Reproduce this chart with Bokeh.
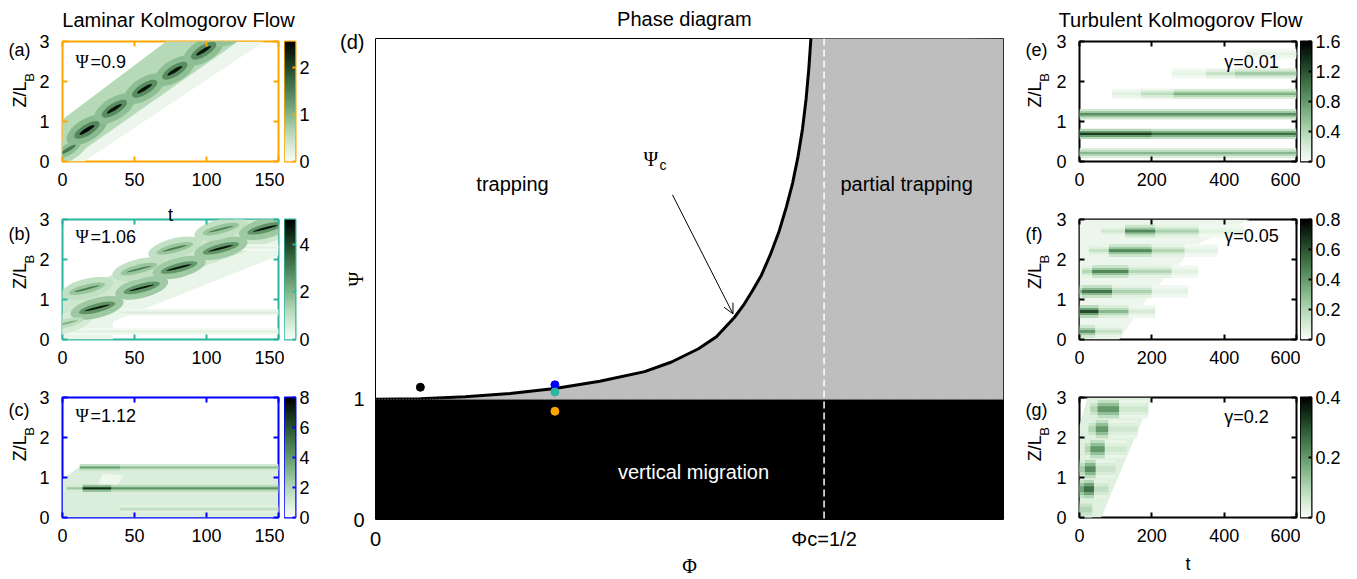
import numpy as np
from bokeh.plotting import figure
from bokeh.models import (ColumnDataSource, Label, Arrow, OpenHead, Span,
                          FixedTicker, LinearAxis, Range1d, LinearColorMapper)
from bokeh.layouts import row, column
from bokeh.transform import linear_cmap
from bokeh.embed import file_html
from bokeh.resources import INLINE

SANS = "Liberation Sans"
SERIF = "Liberation Serif"

# ======================= DATA =======================
# ---- (d) phase diagram ----
PHI_RANGE = [0.0, 0.7]
PSI_RANGE = [0.0, 4.0]
PHI_C = [0.0, 0.05, 0.10, 0.15, 0.20, 0.25, 0.30, 0.33, 0.36, 0.38, 0.40, 0.41, 0.42,
         0.43, 0.44, 0.45, 0.458, 0.465, 0.471, 0.476, 0.480, 0.483, 0.4855]
PSI_C = [1.00, 1.005, 1.02, 1.048, 1.09, 1.15, 1.23, 1.31, 1.42, 1.52, 1.68, 1.78, 1.90,
         2.03, 2.20, 2.40, 2.60, 2.80, 3.02, 3.25, 3.50, 3.75, 4.02]
PSI_MIGRATION = [0.0, 1.0]
PHI_CRIT = 0.5
DOT_PHI = [0.05, 0.20, 0.20, 0.20]
DOT_PSI = [1.10, 1.12, 1.06, 0.90]
DOT_COLORS = ["#000000", "#0000ff", "#2cb5a0", "#ffa500"]
ARROW_FROM = [0.331, 2.70]
ARROW_TO = [0.3985, 1.71]

# ---- heat-map panels: (a) (b) (c) laminar, (e) (f) (g) turbulent ----
T_LAMINAR = [0, 50, 100, 150]
T_TURB = [0, 200, 400, 600]
Z_TICKS = [0, 1, 2, 3]

A_CBAR = [0, 1, 2]; A_VMAX = 2.55
A_REG_T = [[0, 0, 72, 140, 15], [0, 0, 72, 122, 3]]
A_REG_Z = [[0, 1.05, 3, 3, 0], [0.05, 1.05, 3, 3, 0]]
A_REG_V = [0.12, 0.6]
A_BLOB_T = [4, 17, 36, 57, 78, 98, 118]
A_BLOB_Z = [0.30, 0.79, 1.32, 1.82, 2.27, 2.77, 3.25]
A_BLOB_V = [1.6, 2.5, 2.4, 2.4, 2.4, 2.4, 2.3]

B_CBAR = [0, 2, 4]; B_VMAX = 5.05
B_REG_T = [[0, 0, 150, 150, 35, 35], [0, 0, 119, 150, 150]]
B_REG_Z = [[0, 0.55, 2.5, 2.1, 0.45, 0], [0.55, 1.05, 3, 3, 2.5]]
B_REG_V = [0.3, 0.75]
B_ST_Z = [0.68, 0.20, 2.30]
B_ST_T0 = [40, 0, 120]
B_ST_T1 = [150, 150, 150]
B_ST_V = [0.6, 0.5, 0.45]
B_BLOB_T = [2, 24, 17, 55, 53, 81, 78, 110, 110, 141]
B_BLOB_Z = [0.40, 0.79, 1.27, 1.29, 1.76, 1.80, 2.28, 2.28, 2.76, 2.78]
B_BLOB_V = [2.0, 4.8, 3.0, 4.7, 3.0, 4.7, 3.0, 4.7, 3.0, 4.8]

C_CBAR = [0, 2, 4, 6, 8]; C_VMAX = 8.0
C_REG_T = [[0, 0, 12, 150, 150], [25, 28, 42, 38]]
C_REG_Z = [[0, 0.96, 1.27, 1.27, 0], [0.82, 1.10, 1.05, 0.80]]
C_REG_V = [0.9, 0.3]
C_ST_Z = [1.25, 1.25, 0.73, 0.73, 0.73, 0.21]
C_ST_T0 = [12, 40, 3, 14, 34, 40]
C_ST_T1 = [40, 150, 14, 34, 150, 150]
C_ST_V = [3.8, 2.8, 2.5, 6.8, 4.2, 1.8]

E_CBAR = [0, 0.4, 0.8, 1.2, 1.6]; E_VMAX = 1.6
E_ST_Z = [0.21, 0.69, 0.69, 1.18, 1.69, 1.69, 1.69, 2.20, 2.20, 2.20, 2.69]
E_ST_T0 = [0, 0, 200, 0, 90, 170, 260, 255, 350, 430, 460]
E_ST_T1 = [600, 200, 600, 600, 170, 260, 600, 350, 430, 600, 600]
E_ST_V = [0.6, 1.3, 1.05, 0.85, 0.15, 0.35, 0.65, 0.12, 0.3, 0.5, 0.12]

F_CBAR = [0, 0.2, 0.4, 0.6, 0.8]; F_VMAX = 0.8
F_REG_T = [[0, 0, 470, 330, 200, 110]]
F_REG_Z = [[0, 3, 3, 2.4, 1.2, 0]]
F_REG_V = [0.04]
F_ST_Z = [2.71, 2.71, 2.71, 2.71, 2.22, 2.22, 2.22, 2.22, 1.70, 1.70, 1.70, 1.70,
          1.20, 1.20, 1.20, 1.20, 0.70, 0.70, 0.70, 0.20, 0.20]
F_ST_T0 = [60, 126, 210, 330, 26, 81, 200, 291, 7, 35, 136, 255,
           0, 7, 90, 200, 0, 53, 136, 0, 44]
F_ST_T1 = [126, 210, 330, 456, 81, 200, 291, 383, 35, 136, 255, 328,
           7, 90, 200, 300, 53, 136, 209, 44, 117]
F_ST_V = [0.12, 0.45, 0.22, 0.07, 0.15, 0.45, 0.2, 0.07, 0.2, 0.45, 0.2, 0.07,
          0.3, 0.5, 0.22, 0.07, 0.62, 0.3, 0.1, 0.4, 0.15]

G_CBAR = [0, 0.2, 0.4]; G_VMAX = 0.4
G_REG_T = [[0, 0, 22, 200, 60]]
G_REG_Z = [[0, 2.3, 3, 3, 0]]
G_REG_V = [0.04]
G_ST_Z = [0.20, 0.71, 0.71, 0.71, 1.21, 1.21, 1.21, 1.71, 1.71, 1.71,
          2.21, 2.21, 2.21, 2.71, 2.71, 2.71]
G_ST_T0 = [0, 0, 12, 40, 0, 15, 45, 15, 30, 70, 25, 45, 80, 30, 50, 110]
G_ST_T1 = [35, 12, 40, 80, 15, 45, 100, 30, 70, 130, 45, 80, 160, 50, 110, 190]
G_ST_V = [0.1, 0.18, 0.26, 0.08, 0.12, 0.22, 0.07, 0.1, 0.2, 0.06,
          0.1, 0.2, 0.06, 0.1, 0.2, 0.06]

# ======================= STYLE =======================
def make_palette():
    anchors = [(0.00, (248, 252, 248)), (0.10, (222, 240, 222)), (0.25, (178, 215, 180)),
               (0.40, (128, 180, 135)), (0.55, (88, 140, 96)), (0.70, (52, 98, 60)),
               (0.85, (22, 50, 28)), (1.00, (0, 0, 0))]
    pos = np.array([a[0] for a in anchors])
    cols = np.array([a[1] for a in anchors], dtype=float)
    out = []
    for x in np.linspace(0, 1, 256):
        r, g, b = (np.interp(x, pos, cols[:, k]) for k in range(3))
        out.append("#%02x%02x%02x" % (int(round(r)), int(round(g)), int(round(b))))
    return out


PAL = make_palette()


def lab(p, x, y, text, size=18, font=SANS, xo=0, yo=0, align="left",
        baseline="middle", angle=0.0, color="black"):
    p.add_layout(Label(x=x, y=y, text=text, x_offset=xo, y_offset=yo,
                       text_font=font, text_font_size=f"{size}px",
                       text_align=align, text_baseline=baseline, angle=angle,
                       text_color=color))


def bare_fig(w, h, xr, yr):
    f = figure(width=w, height=h, x_range=xr, y_range=yr, x_axis_location=None,
               y_axis_location=None, output_backend="svg", toolbar_location=None,
               min_border_left=0, min_border_right=0, min_border_top=0,
               min_border_bottom=0)
    f.grid.visible = False
    f.outline_line_color = None
    f.background_fill_color = "white"
    f.border_fill_color = "white"
    return f


def style_axis(ax, ticks, col, labels=True, size=18, standoff=12, tick_len=5):
    ax.ticker = FixedTicker(ticks=ticks)
    ax.major_tick_in = tick_len
    ax.major_tick_out = 0
    ax.minor_tick_in = 0
    ax.minor_tick_out = 0
    ax.major_tick_line_color = col
    ax.major_tick_line_width = 2
    ax.axis_line_color = None
    if labels:
        ax.major_label_text_font = SANS
        ax.major_label_text_font_size = f"{size}px"
        ax.major_label_text_color = "black"
        ax.major_label_standoff = standoff
    else:
        ax.major_label_text_font_size = "1px"
        ax.major_label_text_alpha = 0
        ax.major_label_standoff = 0


def axis_title(ax, text, size, standoff, font=SANS):
    ax.axis_label = text
    ax.axis_label_text_font = font
    ax.axis_label_text_font_size = f"{size}px"
    ax.axis_label_text_font_style = "normal"
    ax.axis_label_text_color = "black"
    ax.axis_label_standoff = standoff


def heat_panel(spec):
    tmax, col, vmax = spec["tmax"], spec["color"], spec["vmax"]
    H, bt, bb = spec["h"], spec["bt"], spec["bb"]
    lw, bl, fw, br, cbr = spec["lw"], spec["bl"], spec["fw"], spec["br"], spec["cbr"]

    # label column (panel letter and Z/L_B)
    lf = bare_fig(lw, H, Range1d(0, lw), Range1d(-bb / 40, 3 + bt / 40))
    lab(lf, 0, 3, spec["letter"], xo=spec["let_x"], yo=-2)
    lab(lf, 0, 1.5, "Z/L", angle=np.pi / 2, align="center", xo=spec["zl_x"], yo=-4)
    lab(lf, 0, 1.5, "B", size=13, angle=np.pi / 2, align="center",
        xo=spec["zl_x"] + 10, yo=13)

    p = figure(width=bl + fw + br, height=H, x_range=Range1d(0, tmax),
               y_range=Range1d(0, 3), output_backend="svg", toolbar_location=None,
               min_border_left=bl, min_border_right=br, min_border_top=bt,
               min_border_bottom=bb)
    p.grid.visible = False
    p.outline_line_color = col
    p.outline_line_width = 2
    p.background_fill_color = "white"
    p.border_fill_color = "white"
    bottom = p.xaxis[0]
    style_axis(bottom, spec["xticks"], col, standoff=11)
    style_axis(p.yaxis[0], Z_TICKS, col, standoff=13)
    top = LinearAxis()
    style_axis(top, spec["xticks"], col, labels=False)
    p.add_layout(top, "above")
    right = LinearAxis()
    style_axis(right, Z_TICKS, col, labels=False)
    p.add_layout(right, "right")
    if spec.get("top_title"):
        axis_title(top, spec["top_title"], 18, -5)
    if spec.get("bottom_title"):
        axis_title(bottom, spec["bottom_title"], 18, 9)

    cmap = linear_cmap("v", PAL, 0, vmax)
    if spec.get("reg_t"):
        src = ColumnDataSource(dict(xs=spec["reg_t"], ys=spec["reg_z"], v=spec["reg_v"]))
        p.patches("xs", "ys", source=src, fill_color=cmap, line_color=None)
    if spec.get("st_z"):
        z = np.array(spec["st_z"], float)
        vv = np.array(spec["st_v"], float)
        for h, frac in spec["st_layers"]:
            src = ColumnDataSource(dict(l=spec["st_t0"], r=spec["st_t1"],
                                        b=z - h / 2, t=z + h / 2, v=vv * frac))
            p.quad(left="l", right="r", bottom="b", top="t", source=src,
                   fill_color=cmap, line_color=None)
    if spec.get("blob_t"):
        vv = np.array(spec["blob_v"], float)
        for w, h, frac in spec["blob_layers"]:
            src = ColumnDataSource(dict(x=spec["blob_t"], y=spec["blob_z"], v=vv * frac))
            p.ellipse(x="x", y="y", width=w, height=h, angle=spec["blob_angle"],
                      source=src, fill_color=cmap, line_color=None)

    lab(p, spec["ann_t"], spec["ann_z"], spec["ann_sym"],
        font=SERIF if spec["ann_sym"] == "Ψ" else SANS)
    lab(p, spec["ann_t"], spec["ann_z"], spec["ann_txt"], xo=spec["ann_dx"])

    # colour bar
    cb = figure(width=11 + cbr, height=H, x_range=Range1d(0, 1), y_range=Range1d(0, vmax),
                x_axis_location=None, y_axis_location="right", output_backend="svg",
                toolbar_location=None, min_border_left=0, min_border_right=cbr,
                min_border_top=bt, min_border_bottom=bb)
    cb.grid.visible = False
    cb.outline_line_color = col
    cb.outline_line_width = 2
    cb.border_fill_color = "white"
    mapper = LinearColorMapper(palette=PAL, low=0, high=vmax)
    ramp = np.linspace(0, vmax, 256).reshape(-1, 1)
    cb.image(image=[ramp], x=0, y=0, dw=1, dh=vmax, color_mapper=mapper)
    ax = cb.yaxis[0]
    style_axis(ax, spec["cbar"], col, standoff=4, tick_len=3)
    ax.major_label_overrides = {t: ("%g" % t) for t in spec["cbar"]}
    return row(lf, p, cb)


# page layout (the page has no margin): strip 0-32, rows of 169 / 178 / 200 px
ROWS = [dict(h=169, bt=9, bb=40), dict(h=178, bt=18, bb=40), dict(h=200, bt=18, bb=62)]
LEFT_GEO = dict(lw=36, bl=24, fw=218, br=6, cbr=40, tmax=150, xticks=T_LAMINAR, ann_t=9,
                let_x=8, zl_x=19, ann_dx=15)
RIGHT_GEO = dict(lw=49, bl=24, fw=219, br=4, cbr=38, tmax=600, xticks=T_TURB, ann_t=400,
                 let_x=21, zl_x=30, ann_dx=0)
LAYERS_BLOB_A = [(32, 0.55, 0.38), (20, 0.28, 0.58), (12, 0.09, 1.0)]
LAYERS_BLOB_B = [(38, 0.5, 0.33), (26, 0.22, 0.55), (18, 0.05, 1.0)]

specs_left = [
    dict(color="#ffa500", vmax=A_VMAX, cbar=A_CBAR, reg_t=A_REG_T, reg_z=A_REG_Z,
         reg_v=A_REG_V, blob_t=A_BLOB_T, blob_z=A_BLOB_Z, blob_v=A_BLOB_V,
         blob_layers=LAYERS_BLOB_A, blob_angle=0.55, ann_z=2.48, ann_sym="Ψ",
         ann_txt="=0.9", letter="(a)"),
    dict(color="#2cb5a0", vmax=B_VMAX, cbar=B_CBAR, reg_t=B_REG_T, reg_z=B_REG_Z,
         reg_v=B_REG_V, st_z=B_ST_Z, st_t0=B_ST_T0, st_t1=B_ST_T1, st_v=B_ST_V,
         st_layers=[(0.16, 0.35), (0.08, 0.6), (0.03, 1.0)],
         blob_t=B_BLOB_T, blob_z=B_BLOB_Z, blob_v=B_BLOB_V,
         blob_layers=LAYERS_BLOB_B, blob_angle=0.25, ann_z=2.56, ann_sym="Ψ",
         ann_txt="=1.06", letter="(b)", top_title="t"),
    dict(color="#0000ff", vmax=C_VMAX, cbar=C_CBAR, reg_t=C_REG_T, reg_z=C_REG_Z,
         reg_v=C_REG_V, st_z=C_ST_Z, st_t0=C_ST_T0, st_t1=C_ST_T1, st_v=C_ST_V,
         st_layers=[(0.18, 0.4), (0.08, 0.7), (0.035, 1.0)], ann_z=2.55,
         ann_sym="Ψ", ann_txt="=1.12", letter="(c)"),
]
specs_right = [
    dict(color="black", vmax=E_VMAX, cbar=E_CBAR, st_z=E_ST_Z, st_t0=E_ST_T0,
         st_t1=E_ST_T1, st_v=E_ST_V, st_layers=[(0.26, 0.3), (0.15, 0.6), (0.06, 1.0)],
         ann_z=2.48, ann_sym="", ann_txt="γ=0.01", letter="(e)"),
    dict(color="black", vmax=F_VMAX, cbar=F_CBAR, reg_t=F_REG_T, reg_z=F_REG_Z,
         reg_v=F_REG_V, st_z=F_ST_Z, st_t0=F_ST_T0, st_t1=F_ST_T1, st_v=F_ST_V,
         st_layers=[(0.32, 0.3), (0.17, 0.6), (0.07, 1.0)],
         ann_z=2.6, ann_sym="", ann_txt="γ=0.05", letter="(f)"),
    dict(color="black", vmax=G_VMAX, cbar=G_CBAR, reg_t=G_REG_T, reg_z=G_REG_Z,
         reg_v=G_REG_V, st_z=G_ST_Z, st_t0=G_ST_T0, st_t1=G_ST_T1, st_v=G_ST_V,
         st_layers=[(0.46, 0.4), (0.3, 0.7), (0.14, 1.0)],
         ann_z=2.51, ann_sym="", ann_txt="γ=0.2", letter="(g)", bottom_title="t"),
]

left_rows, right_rows = [], []
for s, r in zip(specs_left, ROWS):
    s.update(r); s.update(LEFT_GEO)
    left_rows.append(heat_panel(s))
for s, r in zip(specs_right, ROWS):
    s.update(r); s.update(RIGHT_GEO)
    right_rows.append(heat_panel(s))

# column titles
strip_l = bare_fig(335, 32, Range1d(0, 335), Range1d(0, 32))
lab(strip_l, 178, 13, "Laminar Kolmogorov Flow", size=20, align="center")
strip_r = bare_fig(345, 32, Range1d(0, 345), Range1d(0, 32))
lab(strip_r, 176, 13, "Turbulent Kolmogorov Flow", size=20, align="center")
strip_d = bare_fig(669, 30, Range1d(0, 669), Range1d(0, 30))
lab(strip_d, 329, 12, "Phase diagram", size=20, align="center")

# ---- (d) phase diagram figure ----
d = figure(width=40 + 628 + 1, height=549, x_range=Range1d(*PHI_RANGE),
           y_range=Range1d(*PSI_RANGE), output_backend="svg", toolbar_location=None,
           min_border_left=40, min_border_right=1, min_border_top=8,
           min_border_bottom=54)
d.grid.visible = False
d.outline_line_color = "black"
d.outline_line_width = 1
d.background_fill_color = "white"
d.border_fill_color = "white"
d.xaxis.ticker = FixedTicker(ticks=[0, PHI_CRIT])
d.xaxis.major_label_overrides = {0: "0", PHI_CRIT: "Φc=1/2"}
d.yaxis.ticker = FixedTicker(ticks=[0, 1, PSI_RANGE[1]])
d.yaxis.major_label_overrides = {0: "0", 1: "1", PSI_RANGE[1]: "(d)"}
for ax, so in ((d.xaxis[0], 8), (d.yaxis[0], 11)):
    ax.major_tick_in = 0
    ax.major_tick_out = 0
    ax.minor_tick_in = 0
    ax.minor_tick_out = 0
    ax.axis_line_color = None
    ax.major_label_text_font = SANS
    ax.major_label_text_font_size = "20px"
    ax.major_label_text_color = "black"
    ax.major_label_standoff = so
axis_title(d.xaxis[0], "Φ", 20, 2, font=SERIF)
axis_title(d.yaxis[0], "Ψ", 20, -30, font=SERIF)

d.quad(left=[PHI_RANGE[0]], right=[PHI_RANGE[1]], bottom=[PSI_MIGRATION[0]],
       top=[PSI_MIGRATION[1]], fill_color="black", line_color=None)
d.patch(PHI_C + [PHI_RANGE[1], PHI_RANGE[1]], PSI_C + [PSI_RANGE[1], PSI_MIGRATION[1]],
        fill_color="#bebebe", line_color=None)
d.add_layout(Span(location=PSI_MIGRATION[1], dimension="width", line_color="#8c8c8c",
                  line_dash="1 2", line_width=1))
d.add_layout(Span(location=PHI_CRIT, dimension="height", line_color="white",
                  line_dash="7 4", line_width=1.5))
d.line(PHI_C, PSI_C, line_color="black", line_width=3)
d.scatter(DOT_PHI, DOT_PSI, color=DOT_COLORS, size=8)
d.add_layout(Arrow(end=OpenHead(size=10, line_width=1, line_color="black"),
                   x_start=ARROW_FROM[0], y_start=ARROW_FROM[1],
                   x_end=ARROW_TO[0], y_end=ARROW_TO[1],
                   line_width=1, line_color="black"))

lab(d, 0.1527, 2.79, "trapping", size=20, align="center")
lab(d, 0.592, 2.79, "partial trapping", size=20, align="center")
lab(d, 0.3545, 0.397, "vertical migration", size=20, align="center", color="white")
lab(d, 0.2987, 3.0, "Ψ", size=20, font=SERIF)
lab(d, 0.2987, 3.0, "c", size=14, xo=16, yo=-6)

layout = row(column(strip_l, *left_rows), column(strip_d, d), column(strip_r, *right_rows))
open("out.html", "w").write(file_html(layout, INLINE))
